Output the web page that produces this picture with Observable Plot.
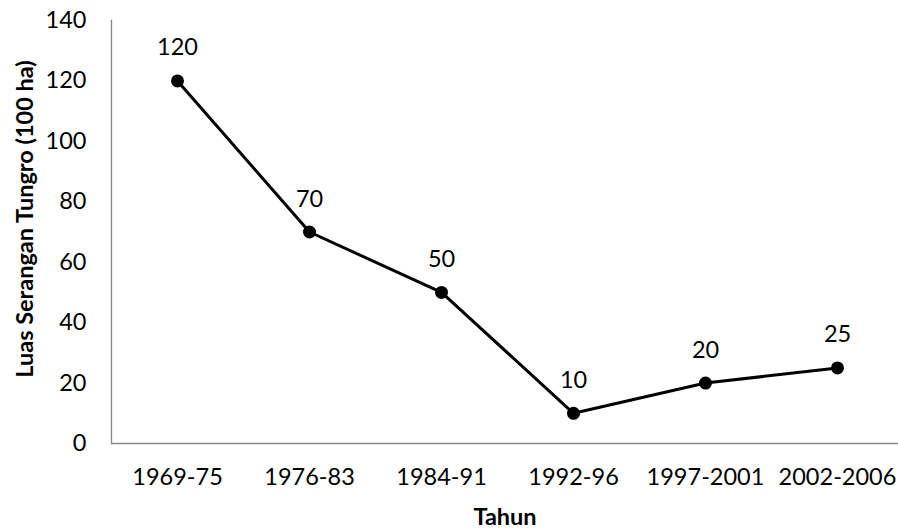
<!DOCTYPE html>
<html>
<head>
<meta charset="utf-8">
<script src="https://cdn.jsdelivr.net/npm/d3@7"></script>
<script src="https://cdn.jsdelivr.net/npm/@observablehq/plot@0.6"></script>
<style>
  html, body { margin: 0; padding: 0; background: #fff; }
  #chart svg { display: block; }
  #chart [aria-label="x-axis label"] { font-weight: bold; }
</style>
</head>
<body>
<div id="chart"></div>
<script>
const periods = ["1969-75", "1976-83", "1984-91", "1992-96", "1997-2001", "2002-2006"];
const values = [120, 70, 50, 10, 20, 25];
const yTicks = [0, 20, 40, 60, 80, 100, 120, 140];
const xTitle = "Tahun";
const yTitle = "Luas Serangan Tungro (100 ha)";

const data = periods.map((p, i) => ({period: p, value: values[i]}));

const chart = Plot.plot({
  width: 898,
  height: 531,
  marginLeft: 111,
  marginRight: 0,
  marginTop: 20,
  marginBottom: 88,
  style: {fontFamily: "Lato, 'Open Sans', sans-serif", fontSize: "23.5px", color: "#000", background: "#fff"},
  x: {type: "point", domain: periods, padding: 0.5, range: [111, 903]},
  y: {domain: [0, 140], range: [443, 20]},
  marks: [
    Plot.frame({anchor: "left", stroke: "#868686", strokeWidth: 1.3, strokeOpacity: 1}),
    Plot.ruleY([0], {stroke: "#868686", strokeWidth: 1.3}),
    Plot.axisY({ticks: yTicks, tickSize: 0, tickPadding: 25, label: null, fontSize: 23.5}),
    Plot.text([yTitle], {frameAnchor: "left", text: d => d, textAnchor: "middle", rotate: -90, dx: -86, dy: -13, fontWeight: "bold", fontSize: 23.5, fill: "#000"}),
    Plot.axisX({tickSize: 0, tickPadding: 25, label: xTitle, labelAnchor: "center", labelArrow: "none", labelOffset: 81, fontSize: 23.5}),
    Plot.line(data, {x: "period", y: "value", stroke: "#000", strokeWidth: 3}),
    Plot.dot(data, {x: "period", y: "value", r: 6.5, fill: "#000"}),
    Plot.text(data, {x: "period", y: "value", text: d => String(d.value), dy: -33, fill: "#000", fontSize: 23.5})
  ]
});
document.getElementById("chart").appendChild(chart);
</script>
</body>
</html>
